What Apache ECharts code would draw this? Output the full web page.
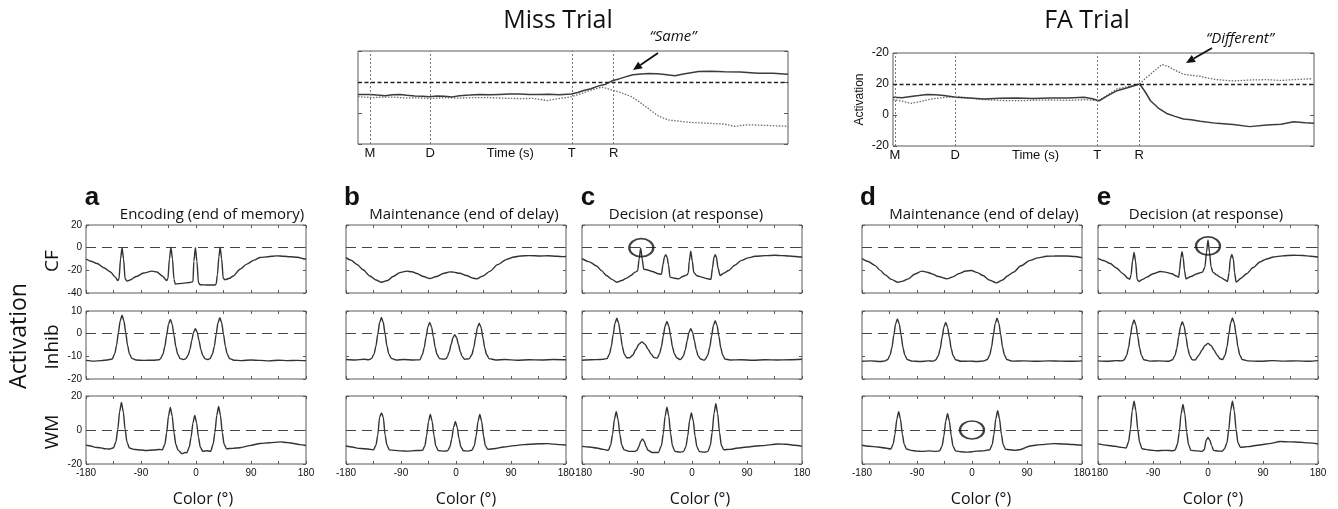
<!DOCTYPE html>
<html>
<head>
<meta charset="utf-8">
<script src="https://cdn.jsdelivr.net/npm/echarts@6/dist/echarts.min.js"></script>
<style>
html,body{margin:0;padding:0;background:#fff}
#chart{width:1338px;height:509px}
</style>
</head>
<body>
<div id="chart"></div>
<script>
// ---- Activation over time (trial traces), time in s, M = memory onset ----
const missSolid = [[-0.2,12],[0,12],[0.12,11.6],[0.25,11.2],[0.38,11.8],[0.5,12],[0.62,11.4],[0.75,11],[0.88,10.8],[1,10.5],[1.12,10.9],[1.25,10.8],[1.38,10.4],[1.5,11.2],[1.67,11.6],[1.83,12],[2,11.7],[2.17,12],[2.33,12.2],[2.5,12.3],[2.67,11.9],[2.83,12],[3,12.1],[3.17,11.8],[3.37,12.3],[3.48,13.2],[3.58,14.5],[3.7,15.6],[3.83,17.5],[3.95,18.6],[4.07,21],[4.17,22],[4.25,23],[4.4,24.7],[4.55,25.2],[4.67,25.5],[4.8,25.4],[4.9,25],[5.11,24],[5.25,25.2],[5.5,26.8],[5.7,27],[5.94,26.6],[6.2,26.4],[6.5,25.7],[6.75,25.6],[7,25]];
const missDotted = [[-0.2,10.5],[0.05,9.9],[0.2,10.3],[0.4,10.2],[0.6,9.7],[0.8,9.8],[1,9.3],[1.25,9.9],[1.5,9.6],[1.72,9.9],[1.95,10],[2.2,9.6],[2.5,9.3],[2.75,9.4],[2.97,8],[3.15,9.2],[3.37,10.5],[3.55,12.6],[3.72,15],[3.88,16.7],[4.07,14.7],[4.22,12.9],[4.38,10.5],[4.5,7.5],[4.61,4.3],[4.72,1.2],[4.83,-2],[5,-4.5],[5.2,-5.4],[5.38,-6.1],[5.65,-6.6],[5.94,-7.2],[6.11,-8.6],[6.3,-7.6],[6.5,-7.8],[6.75,-8.2],[7,-8.6]];
const faSolid = [[-0.03,11.4],[0.12,11.2],[0.27,12],[0.4,12.6],[0.54,13.3],[0.68,13],[0.82,12.6],[1.02,11.4],[1.25,11],[1.49,10.3],[1.75,10.8],[2.04,11],[2.3,10.6],[2.6,11],[2.9,10.9],[3.16,11.4],[3.3,10.5],[3.41,9.2],[3.55,12.3],[3.71,15.7],[3.9,17.8],[4.09,20],[4.18,15],[4.27,9.2],[4.4,4.5],[4.54,1],[4.68,-0.9],[4.82,-2.6],[4.95,-3.1],[5.1,-4.1],[5.38,-5.4],[5.65,-6.2],[5.93,-7.5],[6.21,-6.5],[6.45,-5.9],[6.66,-4.3],[6.85,-5],[7,-5.4]];
const faDotted = [[-0.03,9.9],[0.14,8.8],[0.27,7.5],[0.42,8.6],[0.6,10.3],[0.8,11.2],[1.02,12],[1.25,10.8],[1.49,9.9],[1.75,9.4],[2.04,9.2],[2.3,9.5],[2.6,9.7],[2.9,9.4],[3.16,9.9],[3.41,9.2],[3.55,12.8],[3.71,16.8],[3.9,18.4],[4.09,20],[4.18,23.5],[4.27,26.3],[4.37,29.6],[4.46,32.5],[4.56,31.4],[4.66,29.3],[4.82,26.3],[4.95,25.6],[5.1,25],[5.25,23.6],[5.38,22.8],[5.66,22],[5.95,22.6],[6.21,22.8],[6.45,22.3],[6.66,22.8],[6.96,23.4]];
const timeMarks = [0, 1.01, 3.38, 4.08];
const timeMarkNames = ['M', 'D', 'T', 'R'];
const timeAxisTitlePos = 2.35;
const threshold = 20;
const faTickText = {'-20': '-20', '0': '0', '20': '20', '40': '-20'};

// ---- Activation over colour space, [colour (deg), activation] ----
const aCF = [[-180,-10],[-172,-12],[-162,-14],[-150,-18],[-140,-21.5],[-132,-26],[-128,-29],[-126,-27.5],[-123.5,-10],[-121,0],[-118.5,-10],[-116,-27.5],[-113,-29.5],[-108,-28.5],[-98,-25.5],[-86,-22.4],[-72,-20.7],[-64,-21.5],[-55,-25],[-48,-29],[-46,-27.5],[-43.5,-10],[-41,0.5],[-38.5,-10],[-36,-28],[-34,-32],[-22,-31.5],[-10,-30.7],[-5,-30],[-3.5,-12],[-1,0],[1.5,-12],[4,-31],[7,-32.7],[20,-33],[31,-33],[33,-32],[35,-24],[37.5,-8],[39.5,0.5],[42,-10],[44.5,-27],[47.5,-28.3],[55,-27],[61,-25],[72,-19],[83,-14.5],[95,-11],[105,-8.7],[118,-8],[132,-7.2],[143,-7.6],[154,-8],[166,-8.5],[178,-10],[180,-9.8]];
const aInhib = [[-180,-11.8],[-168,-12.1],[-155,-11.9],[-145,-11.6],[-137,-11.2],[-133,-8.8],[-130,-5.2],[-127,0.5],[-124,5.7],[-121,8.1],[-118,5.7],[-115,0.5],[-112,-5.2],[-109,-8.8],[-105,-10.9],[-98,-11.6],[-85,-11.8],[-70,-11.7],[-60,-11.5],[-58,-11],[-54,-9],[-51,-5.8],[-48,-0.6],[-45,4.2],[-42,6.3],[-39,4.2],[-36,-0.6],[-33,-5.8],[-30,-9],[-26,-11],[-20,-11.4],[-17,-11.1],[-13,-9.6],[-10,-7.1],[-7,-3.1],[-4,0.6],[-1,2.2],[2,0.6],[5,-3.1],[8,-7.1],[11,-9.6],[15,-11.1],[19,-11.4],[23,-11],[27,-8.9],[30,-5.6],[33,-0.2],[36,4.8],[39,7],[42,4.8],[45,-0.2],[48,-5.6],[51,-8.9],[55,-11],[62,-11.7],[75,-11.9],[90,-11.6],[105,-11.8],[120,-12],[135,-11.7],[150,-11.9],[165,-11.8],[180,-11.9]];
const aWM = [[-180,-8.9],[-172,-9.4],[-165,-10.2],[-157,-10.4],[-150,-11],[-141,-11.2],[-135,-10.4],[-131,-7],[-128,0.3],[-125,10.8],[-122,16.2],[-119,10.8],[-116,0.3],[-113,-7],[-109,-10.6],[-100,-11.5],[-90,-11.8],[-82,-12.1],[-70,-11.8],[-60,-11.5],[-55,-11.6],[-51,-8.5],[-48,-1.6],[-45,8.2],[-42,13.3],[-39,8.2],[-36,-1.6],[-33,-8.5],[-29,-12],[-23,-13.9],[-18,-13.2],[-15,-13.4],[-11,-10],[-8,-4.2],[-5,4.2],[-2,8.5],[1,4.2],[4,-4.2],[7,-10],[11,-12.5],[18,-12.2],[24,-12.5],[28,-8.4],[31,-1.4],[34,8.6],[37,13.8],[40,8.6],[43,-1.4],[46,-8.4],[50,-11],[60,-10.8],[72,-10.4],[88,-9.2],[105,-7.9],[120,-7.5],[138,-7],[150,-7.4],[160,-7.9],[170,-8.6],[180,-9.1]];

const bCF = [[-180,-8.8],[-172,-11],[-162,-14.8],[-152,-19.5],[-141,-25],[-131,-28.5],[-122,-30.5],[-112,-29],[-103,-25.5],[-92,-22],[-81,-20.7],[-72,-21.3],[-64,-22.8],[-53,-25.5],[-43,-27.2],[-32,-25.5],[-21,-22.8],[-10,-21.4],[-4,-21.6],[6,-22.6],[17,-24.6],[28,-27],[34,-27.5],[44,-25],[56,-20.7],[68,-15],[83,-10.3],[95,-8.2],[105,-7.3],[120,-7],[138,-7.3],[150,-7.1],[165,-7.6],[176,-7.9],[180,-7.8]];
const bInhib = [[-180,-11.4],[-165,-11.6],[-150,-11.3],[-143,-11.5],[-138,-10.9],[-134,-8.9],[-131,-5.5],[-128,-0.2],[-125,4.9],[-122,7.1],[-119,4.9],[-116,-0.2],[-113,-5.5],[-110,-8.9],[-106,-10.9],[-98,-11.6],[-85,-11.4],[-70,-11.6],[-59,-11.5],[-55,-9.2],[-52,-6.2],[-49,-1.4],[-46,3],[-43,5],[-40,3],[-37,-1.4],[-34,-6.2],[-31,-9.2],[-27,-11],[-20,-11.3],[-16,-11],[-14,-10],[-11,-8],[-8,-4.8],[-5,-1.8],[-2,-0.5],[1,-1.8],[4,-4.8],[7,-8],[10,-10],[14,-11.3],[18,-11.2],[22,-11],[26,-9.2],[29,-6.3],[32,-1.7],[35,2.7],[38,4.6],[41,2.7],[44,-1.7],[47,-6.3],[50,-9.2],[54,-11],[65,-11.6],[80,-11.4],[100,-11.7],[120,-11.5],[140,-11.6],[160,-11.4],[180,-11.5]];
const bWM = [[-180,-9.4],[-170,-10],[-160,-10.8],[-150,-11],[-140,-11.4],[-135,-11.7],[-131,-8.9],[-128,-3],[-125,7.6],[-122,10],[-119,7.6],[-116,-3],[-113,-8.9],[-109,-11.7],[-100,-12],[-90,-12.3],[-80,-12.4],[-65,-12.1],[-55,-12],[-51,-9.4],[-48,-3.3],[-45,5.1],[-42,9.2],[-39,5.1],[-36,-3.3],[-33,-9.4],[-29,-12.1],[-20,-12.4],[-14,-12.3],[-10,-10],[-7,-5.3],[-4,1.5],[-1,5],[2,1.5],[5,-5.3],[8,-10],[12,-12.2],[20,-12.4],[26,-11.9],[30,-9.2],[33,-3.4],[36,5],[39,9.2],[42,5],[45,-3.4],[48,-9.2],[52,-11.4],[62,-11],[78,-10],[95,-9.2],[110,-8.6],[121,-8.4],[135,-8.1],[149,-8],[160,-8.3],[170,-8.6],[180,-8.8]];

const cCF = [[-180,-9.7],[-168,-12.5],[-156,-16.2],[-148,-20.3],[-140,-24.6],[-131,-28],[-123,-30.5],[-115,-29],[-107,-26.9],[-100,-24.5],[-93,-21.6],[-89,-20.5],[-86.5,-10],[-84,-0.2],[-81.5,-10],[-79,-19],[-74,-19.5],[-65,-21],[-55,-23],[-50,-23.5],[-47.5,-15],[-45,-8],[-43,-6.1],[-41,-8],[-38.5,-15],[-36,-26],[-29,-27],[-22,-27.5],[-15,-25.5],[-8,-24],[-6,-22],[-4.5,-12],[-2,-3.2],[0.5,-12],[3,-22],[8,-24.8],[16,-26],[24,-27.3],[31,-28],[33.5,-18],[36,-8.5],[38,-6.1],[40,-8.5],[42.5,-18],[46,-24.6],[52,-22.5],[60,-20.2],[70,-15.5],[81,-11.2],[92,-9],[103,-7.6],[120,-7],[136,-6.7],[148,-7],[158,-7.3],[170,-7.8],[177,-8.2],[180,-8]];
const cInhib = [[-180,-11.7],[-165,-11.5],[-150,-11.4],[-145,-11.3],[-139,-11],[-135,-8.9],[-132,-5.6],[-129,-0.3],[-126,4.6],[-123,6.8],[-120,4.6],[-117,-0.3],[-114,-5.6],[-111,-8.9],[-107,-10.6],[-102,-10.6],[-97,-9.5],[-92,-7],[-87,-4.7],[-82,-3.6],[-77,-4.6],[-72,-6.8],[-67,-9],[-62,-10.5],[-57,-10.8],[-53,-8.8],[-50,-5.8],[-47,-1],[-44,3.4],[-41,5.4],[-38,3.4],[-35,-1],[-32,-5.8],[-29,-8.8],[-25,-10.6],[-20,-11.4],[-18,-11.2],[-14,-9.8],[-11,-7.2],[-8,-3.2],[-5,0.5],[-2,2.2],[1,0.5],[4,-3.2],[7,-7.2],[10,-9.8],[14,-11.2],[20,-11.7],[22,-11.2],[26,-9.3],[29,-6.1],[32,-1.1],[35,3.6],[38,5.7],[41,3.6],[44,-1.1],[47,-6.1],[50,-9.3],[54,-11.2],[62,-11.6],[80,-11.5],[100,-11.7],[120,-11.5],[140,-11.6],[160,-11.5],[180,-11.3]];
const cWM = [[-180,-9.6],[-168,-10],[-156,-10.6],[-145,-11.4],[-137,-12],[-133,-8.8],[-130,-2.6],[-127,6.2],[-124,10.8],[-121,6.2],[-118,-2.6],[-115,-8.8],[-111,-11.7],[-103,-12.6],[-93,-12.6],[-90,-11.9],[-87,-9.8],[-84,-6.8],[-81,-5.2],[-78,-6.8],[-75,-9.8],[-72,-11.9],[-65,-13.2],[-55,-13.2],[-50,-9.3],[-47,-2.2],[-44,8.1],[-41,13.4],[-38,8.1],[-35,-2.2],[-32,-9.3],[-28,-12.6],[-20,-13],[-14,-12.7],[-10,-9.8],[-7,-3.6],[-4,5.4],[-1,10],[2,5.4],[5,-3.6],[8,-9.8],[12,-12.7],[20,-13.1],[26,-12.6],[30,-9],[33,-1.4],[36,9.7],[39,15.4],[42,9.7],[45,-1.4],[48,-9],[52,-11.6],[62,-11.4],[75,-10.6],[90,-10],[105,-9.4],[115,-9.2],[130,-8.6],[141,-8.2],[155,-8.4],[168,-9],[180,-9.6]];

const dCF = [[-180,-9.7],[-170,-12.2],[-159,-15.6],[-150,-20],[-142,-24],[-132,-28],[-121,-30.5],[-113,-29.5],[-104,-27.5],[-94,-23.5],[-82,-20.7],[-73,-21.7],[-66,-23],[-55,-25.5],[-41,-27.5],[-31,-25.8],[-22,-23],[-10,-20.6],[-1,-20.2],[9,-22],[18,-24.6],[28,-28.5],[40,-31.1],[50,-28.5],[58,-25],[68,-21.6],[80,-16],[95,-11.2],[108,-9],[122,-7.6],[135,-7.4],[155,-7.3],[168,-7.8],[180,-8.8]];
const dInhib = [[-180,-12.2],[-165,-12],[-150,-12.3],[-142,-12],[-138,-11.4],[-134,-9.4],[-131,-6.1],[-128,-0.7],[-125,4.3],[-122,6.5],[-119,4.3],[-116,-0.7],[-113,-6.1],[-110,-9.4],[-106,-11.4],[-98,-12.1],[-85,-12.3],[-72,-12],[-63,-12.1],[-59,-11.5],[-55,-9.6],[-52,-6.6],[-49,-1.7],[-46,2.9],[-43,4.9],[-40,2.9],[-37,-1.7],[-34,-6.6],[-31,-9.6],[-27,-11.5],[-18,-12.2],[-5,-12.1],[8,-12.3],[20,-12],[25,-11.4],[29,-9.4],[32,-6],[35,-0.5],[38,4.5],[41,6.8],[44,4.5],[47,-0.5],[50,-6],[53,-9.4],[57,-11.4],[66,-12.1],[85,-12],[105,-12.2],[125,-12],[145,-12.1],[165,-12.2],[180,-12]];
const dWM = [[-180,-9],[-168,-9.6],[-154,-10],[-142,-10.6],[-133,-11.2],[-129,-8.4],[-126,-2.4],[-123,6.3],[-120,10.8],[-117,6.3],[-114,-2.4],[-111,-8.4],[-107,-11.2],[-100,-12],[-90,-12.4],[-82,-12.6],[-70,-12.3],[-60,-12.6],[-53,-12.3],[-49,-9.5],[-46,-3.5],[-43,5.2],[-40,9.6],[-37,5.2],[-34,-3.5],[-31,-9.5],[-27,-12.3],[-18,-12.8],[-8,-13],[0,-12.8],[8,-12.4],[17,-12.3],[29,-11.6],[33,-8.7],[36,-2.4],[39,6.7],[42,11.4],[45,6.7],[48,-2.4],[51,-8.7],[55,-11.4],[62,-11.6],[70,-12],[78,-11.6],[95,-9.4],[112,-8.6],[133,-8],[150,-8.2],[165,-8.5],[180,-9]];

const eCF = [[-180,-9.5],[-170,-11.5],[-160,-14],[-150,-18],[-139,-23],[-131,-27],[-128,-28],[-126,-24],[-123.5,-12],[-121,-4.2],[-118.5,-12],[-116,-28],[-113,-29.8],[-107,-28],[-100,-26],[-90,-23],[-78,-21],[-68,-21.8],[-59,-23],[-52,-25],[-48,-26],[-46.5,-20],[-44.5,-9],[-42.5,-3.6],[-40.5,-9],[-38.5,-20],[-36,-27.5],[-28,-25.5],[-18,-23],[-9,-21.6],[-5,-17],[-2.5,-4],[0,6.7],[2.5,-4],[5,-17],[8,-21.6],[14,-24],[20,-26],[28,-28.5],[32,-29.8],[34.5,-22],[36.5,-10],[39,-6],[41.5,-10],[43.5,-22],[46,-30.4],[54,-27],[63,-23],[74,-17.5],[85,-12.6],[96,-10],[107,-8.2],[122,-7.2],[140,-6.7],[155,-6.9],[168,-7.6],[180,-8.2]];
const eInhib = [[-180,-12],[-165,-12.2],[-150,-11.9],[-141,-12],[-137,-11.5],[-133,-9.5],[-130,-6.2],[-127,-1],[-124,3.8],[-121,6],[-118,3.8],[-115,-1],[-112,-6.2],[-109,-9.5],[-105,-11.5],[-95,-12.1],[-80,-12],[-65,-12.2],[-58,-11.5],[-54,-9.6],[-51,-6.5],[-48,-1.4],[-45,3.2],[-42,5.3],[-39,3.2],[-36,-1.4],[-33,-6.5],[-30,-9.6],[-26,-11.5],[-21,-11.6],[-15,-9.5],[-10,-7.3],[-5,-5.2],[0,-4.3],[5,-5.2],[10,-7.3],[15,-9.5],[20,-11.2],[24,-11.4],[28,-9.4],[31,-6],[34,-0.5],[37,4.6],[40,6.9],[43,4.6],[46,-0.5],[49,-6],[52,-9.4],[56,-11.4],[65,-12],[85,-12.2],[105,-11.9],[125,-12.1],[145,-12],[165,-12.2],[180,-11.9]];
const eWM = [[-180,-8.2],[-166,-9],[-152,-9.6],[-142,-10.2],[-134,-10.6],[-130,-7.1],[-127,0.5],[-124,11.4],[-121,17],[-118,11.4],[-115,0.5],[-112,-7.1],[-108,-11],[-96,-11.8],[-84,-12.2],[-70,-12],[-57,-12.2],[-54,-11.8],[-50,-8.4],[-47,-1.1],[-44,9.6],[-41,15],[-38,9.6],[-35,-1.1],[-32,-8.4],[-28,-12],[-18,-12.3],[-10,-12.6],[-6,-11.5],[-3,-6],[0,-4.4],[3,-6],[6,-9.2],[9,-12],[17,-12.4],[23,-12.5],[27,-11.1],[31,-7.5],[34,0.2],[37,11.3],[40,17],[43,11.3],[46,0.2],[49,-7.5],[53,-10.2],[65,-9.8],[85,-8.8],[100,-8],[118,-6.8],[135,-7],[151,-7.2],[165,-7.6],[180,-8.2]];

// Highlighted colour locations: [panel, row, colour, activation]
const circled = [['c', 0, -83, 0], ['d', 2, 0, 0], ['e', 0, 0, 1.5]];

const panelKeys = ['a', 'b', 'c', 'd', 'e'];
const panelCurves = {
  a: [aCF, aInhib, aWM], b: [bCF, bInhib, bWM], c: [cCF, cInhib, cWM],
  d: [dCF, dInhib, dWM], e: [eCF, eInhib, eWM]
};
const rowNames = ['CF', 'Inhib', 'WM'];
const rowScale = [[-40, 20, 20], [-20, 10, 10], [-20, 20, 20]];
const colorLabelValues = [-180, -90, 0, 90, 180];
const panelTitles = ['Encoding (end of memory)', 'Maintenance (end of delay)', 'Decision (at response)', 'Maintenance (end of delay)', 'Decision (at response)'];

// ---- layout ----
const panelLeft = [86, 346, 582, 862, 1098];
const panelW = 220;
const rowTop = [225, 311, 396];
const rowH = 68;
const titleCenter = [212, 464, 686, 984, 1206];
const colorNameCenter = [203, 466, 700, 981, 1213];

const INK = '#333';
const FRAME = '#5a5a5a';
const TICKFONT = 'Liberation Sans';
const TEXTFONT = 'Open Sans';

const grid = [], xAxis = [], yAxis = [], series = [];
const hiddenLine = {show: false, onZero: false};

function addGrid(left, top, width, height) {
  grid.push({left, top, width, height, show: true, borderColor: FRAME, borderWidth: 1, backgroundColor: 'transparent'});
  return grid.length - 1;
}

// top panels: activation over time
function timePanel(left, top, width, height, xmin, solid, dotted, showY) {
  const g = addGrid(left, top, width, height);
  const xi = xAxis.length, yi = yAxis.length;
  xAxis.push({
    gridIndex: g, type: 'value', min: xmin, max: 7, position: 'bottom',
    axisLine: hiddenLine, splitLine: {show: false},
    axisTick: {show: false},
    axisLabel: {
      customValues: timeMarks.concat([timeAxisTitlePos]),
      margin: 3, fontSize: 13, color: '#111', fontFamily: TICKFONT,
      formatter: v => {
        const k = timeMarks.findIndex(m => Math.abs(m - v) < 1e-6);
        return k >= 0 ? timeMarkNames[k] : 'Time (s)';
      }
    }
  });
  yAxis.push({
    gridIndex: g, type: 'value', min: -20, max: 40, interval: 20, position: 'left',
    axisLine: hiddenLine, splitLine: {show: false},
    axisTick: {show: true, inside: true, length: 4, lineStyle: {color: FRAME}},
    axisLabel: showY ? {show: true, margin: 4, fontSize: 12, color: '#111', fontFamily: TICKFONT,
      formatter: v => faTickText[String(v)]} : {show: false},
    name: showY ? 'Activation' : '', nameLocation: 'middle', nameGap: 27, nameRotate: 90,
    nameTextStyle: {fontSize: 12, color: '#111', fontFamily: TICKFONT}
  });
  yAxis.push({
    gridIndex: g, type: 'value', min: -20, max: 40, interval: 20, position: 'right',
    axisLine: hiddenLine, splitLine: {show: false},
    axisTick: {show: true, inside: true, length: 4, lineStyle: {color: FRAME}},
    axisLabel: {show: false}
  });
  series.push({
    type: 'line', xAxisIndex: xi, yAxisIndex: yi, data: dotted, showSymbol: false, silent: true,
    lineStyle: {color: '#6a6a6a', width: 1.3, type: [1.5, 1.5]}
  });
  series.push({
    type: 'line', xAxisIndex: xi, yAxisIndex: yi, data: solid, showSymbol: false, silent: true,
    lineStyle: {color: '#3c3c3c', width: 1.5},
    markLine: {
      silent: true, symbol: 'none', label: {show: false},
      data: timeMarks.map(t => ({xAxis: t, lineStyle: {color: '#777', width: 1, type: [2, 2]}}))
        .concat([{yAxis: threshold, lineStyle: {color: '#222', width: 1.3, type: [4, 2.5]}}])
    }
  });
}

timePanel(358, 51, 430, 93, -0.2, missSolid, missDotted, false);
timePanel(893, 53, 421, 93, -0.03, faSolid, faDotted, true);

// bottom panels: activation over colour
panelKeys.forEach((key, p) => {
  for (let r = 0; r < 3; r++) {
    const g = addGrid(panelLeft[p], rowTop[r], panelW, rowH);
    const xi = xAxis.length, yi = yAxis.length;
    const [ymin, ymax, yint] = rowScale[r];
    const tick = {show: true, inside: true, length: 3, lineStyle: {color: FRAME, width: 1}};
    xAxis.push({
      gridIndex: g, type: 'value', min: -180, max: 180, interval: 45, position: 'bottom',
      axisLine: hiddenLine, splitLine: {show: false}, axisTick: tick,
      axisLabel: r === 2 ? {show: true, customValues: colorLabelValues, margin: 4, fontSize: 10,
        color: '#111', fontFamily: TICKFONT} : {show: false}
    });
    xAxis.push({
      gridIndex: g, type: 'value', min: -180, max: 180, interval: 45, position: 'top',
      axisLine: hiddenLine, splitLine: {show: false}, axisTick: tick, axisLabel: {show: false}
    });
    yAxis.push({
      gridIndex: g, type: 'value', min: ymin, max: ymax, interval: yint, position: 'left',
      axisLine: hiddenLine, splitLine: {show: false}, axisTick: tick,
      axisLabel: p === 0 ? {show: true, margin: 4, fontSize: 10, color: '#111', fontFamily: TICKFONT} : {show: false}
    });
    yAxis.push({
      gridIndex: g, type: 'value', min: ymin, max: ymax, interval: yint, position: 'right',
      axisLine: hiddenLine, splitLine: {show: false}, axisTick: tick, axisLabel: {show: false}
    });
    series.push({
      type: 'line', xAxisIndex: xi, yAxisIndex: yi, data: panelCurves[key][r],
      showSymbol: false, silent: true, smooth: 0.25, smoothMonotone: 'x',
      lineStyle: {color: INK, width: 1.4},
      markLine: {
        silent: true, symbol: 'none', label: {show: false},
        lineStyle: {color: '#444', width: 1, type: [10, 6]},
        data: [{yAxis: 0}]
      }
    });
    const marks = circled.filter(c => c[0] === key && c[1] === r).map(c => [c[2], c[3]]);
    if (marks.length) {
      series.push({
        type: 'scatter', xAxisIndex: xi, yAxisIndex: yi, data: marks, silent: true, clip: false,
        symbol: 'circle', symbolSize: [24, 18], z: 5,
        itemStyle: {color: 'rgba(0,0,0,0)', borderColor: '#111', borderWidth: 2}
      });
    }
  }
});

// ---- text and annotations ----
const graphic = [];
function txt(text, x, y, size, opts = {}) {
  graphic.push({
    type: 'text', x, y, rotation: opts.rotation || 0, silent: true,
    style: {text, fontSize: size, fontFamily: opts.family || TEXTFONT, fontWeight: opts.weight || 'normal',
      fontStyle: opts.style || 'normal', fill: '#111', align: 'center', verticalAlign: 'middle'}
  });
}
function arrow(x1, y1, x2, y2) {
  const dx = x2 - x1, dy = y2 - y1, len = Math.hypot(dx, dy);
  const ux = dx / len, uy = dy / len, hl = 9, hw = 4;
  const bx = x2 - ux * hl, by = y2 - uy * hl;
  graphic.push({type: 'line', silent: true, shape: {x1, y1, x2: bx, y2: by}, style: {stroke: '#111', lineWidth: 1.8}});
  graphic.push({type: 'polygon', silent: true,
    shape: {points: [[x2, y2], [bx - uy * hw, by + ux * hw], [bx + uy * hw, by - ux * hw]]},
    style: {fill: '#111'}});
}

txt('Miss Trial', 558, 21, 25);
txt('FA Trial', 1087, 21, 25);
txt('\u201cSame\u201d', 673, 37, 15, {style: 'italic'});
txt('\u201cDifferent\u201d', 1240, 39, 15, {style: 'italic'});
arrow(658, 53, 633, 70);
arrow(1212, 48, 1186, 63);

panelKeys.forEach((key, p) => {
  txt(key, panelLeft[p] + 6, 198, 26, {weight: 'bold', family: 'Liberation Sans'});
  txt(panelTitles[p], titleCenter[p], 215, 15);
  txt('Color (\u00b0)', colorNameCenter[p], 499, 16);
});
rowNames.forEach((name, r) => {
  txt(name, 53, rowTop[r] + rowH / 2 + 2, 19, {rotation: Math.PI / 2});
});
txt('Activation', 19, 336, 23, {rotation: Math.PI / 2});

const chart = echarts.init(document.getElementById('chart'), null, {renderer: 'canvas'});
chart.setOption({
  animation: false,
  backgroundColor: '#fff',
  grid, xAxis, yAxis, series, graphic
});
</script>
</body>
</html>
